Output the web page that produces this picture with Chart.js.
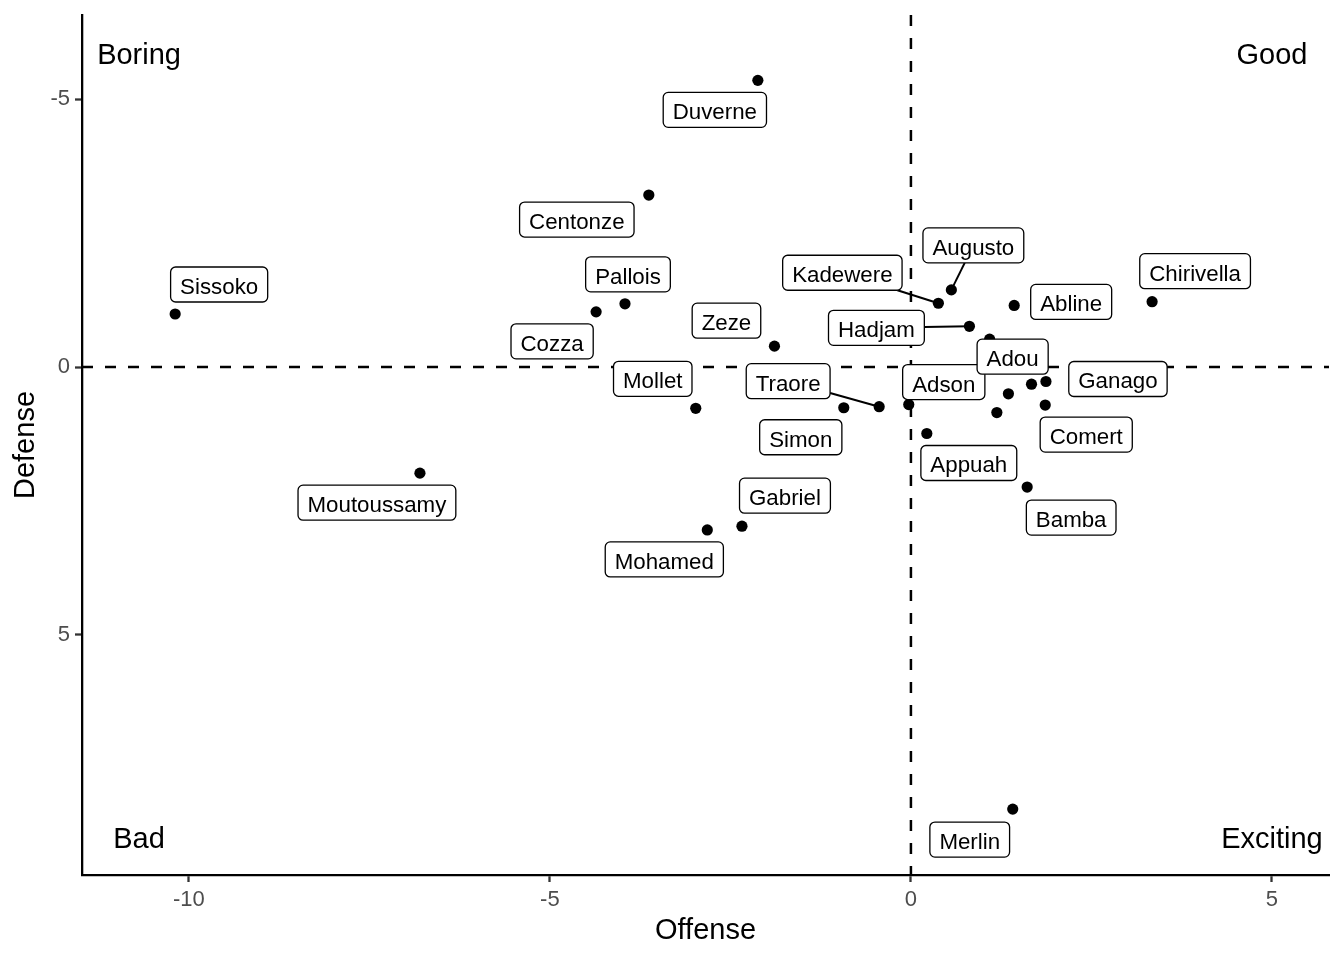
<!DOCTYPE html>
<html>
<head>
<meta charset="utf-8">
<script src="https://cdn.jsdelivr.net/npm/chart.js@4.4.1/dist/chart.umd.min.js"></script>
<style>
  html, body { margin: 0; padding: 0; background: #fff; }
  canvas { display: block; }
</style>
</head>
<body>
<canvas id="chart" width="1344" height="960"></canvas>
<script>
// DATA
const players = ['Duverne', 'Centonze', 'Sissoko', 'Pallois', 'Cozza', 'Zeze', 'Mollet', 'Simon', 'Traore', 'Adson',
  'Kadewere', 'Augusto', 'Hadjam', 'Adou', 'Abline', 'Chirivella', 'Ganago', 'Comert', 'Appuah', 'Bamba',
  'Moutoussamy', 'Gabriel', 'Mohamed', 'Merlin', '', '', ''];
const offense = [-2.12, -3.63, -10.19, -3.96, -4.36, -1.89, -2.98, -0.93, -0.44, -0.03,
  0.38, 0.56, 0.81, 1.09, 1.43, 3.34, 1.87, 1.86, 0.22, 1.61,
  -6.80, -2.34, -2.82, 1.41, 1.35, 1.67, 1.19];
const defense = [-5.35, -3.21, -0.99, -1.18, -1.03, -0.39, 0.77, 0.76, 0.74, 0.70,
  -1.19, -1.44, -0.76, -0.52, -1.15, -1.22, 0.27, 0.71, 1.24, 2.24,
  1.98, 2.97, 3.04, 8.25, 0.50, 0.32, 0.85];

const xTicks = [-10, -5, 0, 5];
const yTicks = [-5, 0, 5];
const quadrantNames = ['Boring', 'Good', 'Bad', 'Exciting'];

// LAYOUT (repelled label text centres, px offset from their point)
const labelDx = [-43, -72, 44, 3, -44, -48, -43, -43, -91, 35, -96, 22, -93, 23, 57, 43, 72, 41, 42, 44, -43, 43, -43, -43];
const labelDy = [31, 26, -28, -28, 31, -24, -28, 31, -24, -21, -29, -43, 3, 19, -2, -29, -1, 31, 31, 32, 31, -29, 31, 32];
const quadrantX = [-10.69, 5, -10.69, 5];
const quadrantY = [-5.65, -5.65, 8.97, 8.97];   // text baselines

const xMin = -11.48, xMax = 5.79;
const yMin = -6.57, yMax = 9.48;

const FONT = '"Liberation Sans", Arial, Helvetica, sans-serif';


// QUADRANT TEXT
const quadrantPlugin = {
  id: 'quadrants',
  afterDatasetsDraw(chart) {
    const { ctx, scales: { x, y } } = chart;
    ctx.save();
    ctx.font = `29px ${FONT}`;
    ctx.fillStyle = '#000';
    ctx.textAlign = 'center';
    ctx.textBaseline = 'alphabetic';
    quadrantNames.forEach((name, i) => {
      ctx.fillText(name, x.getPixelForValue(quadrantX[i]), y.getPixelForValue(quadrantY[i]));
    });
    ctx.restore();
  }
};


// PLAYER LABELS
function roundRect(ctx, x, y, w, h, r) {
  ctx.beginPath();
  ctx.moveTo(x + r, y);
  ctx.lineTo(x + w - r, y);
  ctx.arcTo(x + w, y, x + w, y + r, r);
  ctx.lineTo(x + w, y + h - r);
  ctx.arcTo(x + w, y + h, x + w - r, y + h, r);
  ctx.lineTo(x + r, y + h);
  ctx.arcTo(x, y + h, x, y + h - r, r);
  ctx.lineTo(x, y + r);
  ctx.arcTo(x, y, x + r, y, r);
  ctx.closePath();
}

const labelPlugin = {
  id: 'playerLabels',
  afterDatasetsDraw(chart) {
    const { ctx } = chart;
    const meta = chart.getDatasetMeta(0);
    const fs = 22.3;
    ctx.save();
    ctx.font = `${fs}px ${FONT}`;
    players.forEach((name, i) => {
      if (!name) return;
      const pt = meta.data[i];
      const tx = pt.x + labelDx[i];
      const ty = pt.y + labelDy[i];
      const w = ctx.measureText(name).width + 19;
      const h = 35;
      const bx = tx - w / 2, by = ty - 1.5 - h / 2;

      // segment only when the box sits far from its point
      const nx = Math.max(bx, Math.min(pt.x, bx + w));
      const ny = Math.max(by, Math.min(pt.y, by + h));
      if (Math.hypot(pt.x - nx, pt.y - ny) > 25) {
        const cx = tx, cy = by + h / 2;
        const dx = pt.x - cx, dy = pt.y - cy;
        const t = Math.min(Math.abs(w / 2 / (dx || 1e-9)), Math.abs(h / 2 / (dy || 1e-9)));
        ctx.beginPath();
        ctx.moveTo(cx + dx * t, cy + dy * t);
        ctx.lineTo(pt.x, pt.y);
        ctx.strokeStyle = '#000';
        ctx.lineWidth = 2;
        ctx.stroke();
      }

      roundRect(ctx, bx, by, w, h, 5);
      ctx.fillStyle = '#fff';
      ctx.fill();
      ctx.strokeStyle = '#000';
      ctx.lineWidth = 1.3;
      ctx.stroke();

      ctx.fillStyle = '#000';
      ctx.textAlign = 'center';
      ctx.textBaseline = 'alphabetic';
      ctx.fillText(name, tx, ty + fs * 0.358);
    });
    ctx.restore();
  }
};


// CHART
const ctx = document.getElementById('chart').getContext('2d');

new Chart(ctx, {
  type: 'scatter',
  data: {
    datasets: [
      {
        data: offense.map((v, i) => ({ x: v, y: defense[i] })),
        backgroundColor: '#000',
        borderWidth: 0,
        pointRadius: 5.6,
        pointHoverRadius: 5.6,
        order: 0
      },
      {
        data: [{ x: 0, y: yMin }, { x: 0, y: yMax }],
        showLine: true,
        borderColor: '#000',
        borderWidth: 2.5,
        borderDash: [11, 12],
        pointRadius: 0,
        order: 1
      },
      {
        data: [{ x: xMin, y: 0 }, { x: xMax, y: 0 }],
        showLine: true,
        borderColor: '#000',
        borderWidth: 2.5,
        borderDash: [11, 12],
        pointRadius: 0,
        order: 2
      }
    ]
  },
  options: {
    responsive: false,
    animation: false,
    events: [],
    layout: { padding: { top: 15, right: 15, left: 0, bottom: 0 } },
    plugins: {
      legend: { display: false },
      tooltip: { enabled: false }
    },
    scales: {
      x: {
        type: 'linear',
        min: xMin,
        max: xMax,
        afterBuildTicks: axis => { axis.ticks = xTicks.map(v => ({ value: v })); },
        afterFit: axis => { axis.height = 85; axis.paddingLeft = 0; axis.paddingRight = 0; },
        grid: { drawOnChartArea: false, drawTicks: true, tickLength: 7, tickWidth: 2.3, tickColor: '#333' },
        border: { display: true, color: '#000', width: 2.3 },
        ticks: { color: '#4D4D4D', padding: 5, font: { family: FONT, size: 22 } },
        title: { display: true, text: 'Offense', color: '#000', padding: { top: 0, bottom: 11.5 }, font: { family: FONT, size: 29 } }
      },
      y: {
        type: 'linear',
        reverse: true,
        min: yMin,
        max: yMax,
        afterBuildTicks: axis => { axis.ticks = yTicks.map(v => ({ value: v })); },
        afterFit: axis => { axis.width = 82; axis.paddingTop = 0; axis.paddingBottom = 0; },
        grid: { drawOnChartArea: false, drawTicks: true, tickLength: 7, tickWidth: 2.3, tickColor: '#333' },
        border: { display: true, color: '#000', width: 2.3 },
        ticks: { color: '#4D4D4D', padding: 5, font: { family: FONT, size: 22 } },
        title: { display: true, text: 'Defense', color: '#000', padding: { top: 9, bottom: 0 }, font: { family: FONT, size: 29 } }
      }
    }
  },
  plugins: [quadrantPlugin, labelPlugin]
});
</script>
</body>
</html>
